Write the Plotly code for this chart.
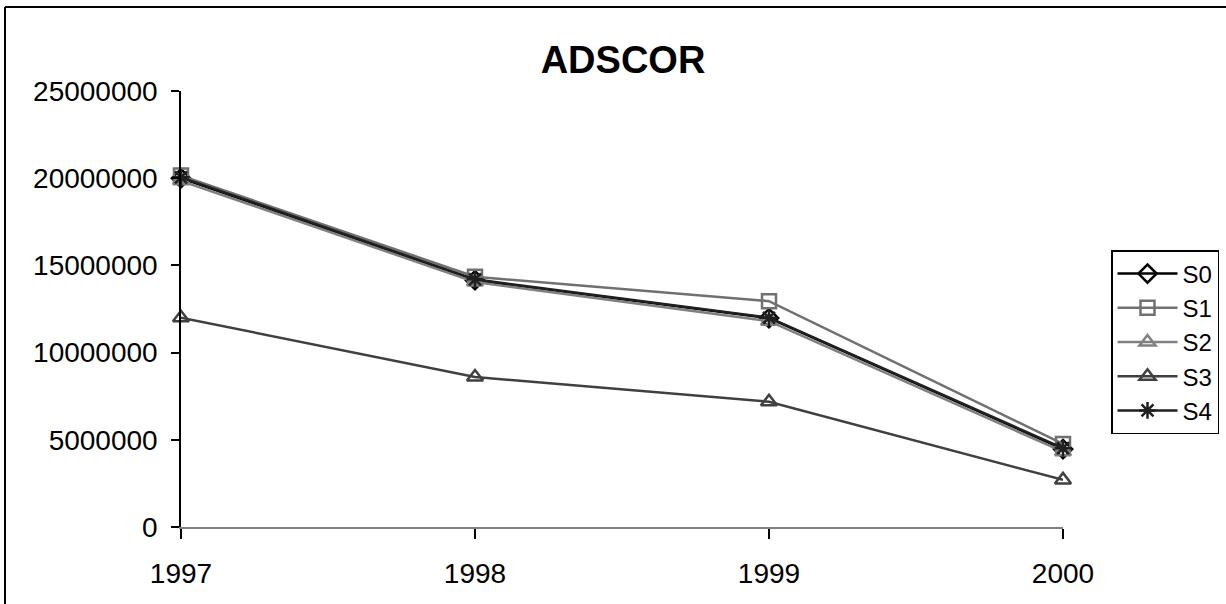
import plotly.graph_objects as go

years = [1997, 1998, 1999, 2000]
s0 = [20000000, 14150000, 11980000, 4470000]
s1 = [20150000, 14350000, 12950000, 4760000]
s2 = [19850000, 14050000, 11800000, 4320000]
s3 = [12000000, 8600000, 7180000, 2700000]
s4 = [20050000, 14200000, 12000000, 4520000]

names = ["S0", "S1", "S2", "S3", "S4"]
series = [s0, s1, s2, s3, s4]
colors = ["#000000", "#707070", "#808080", "#404040", "#202020"]
symbols = ["diamond-open", "square-open", "triangle-up-open", "triangle-up-open", "asterisk-open"]

fig = go.Figure()
for n, v, c, sym in zip(names, series, colors, symbols):
    fig.add_trace(go.Scatter(
        x=years, y=v, name=n, mode="lines+markers",
        line=dict(color=c, width=2.5),
        marker=dict(symbol=sym, size=14, color=c, line=dict(color=c, width=2.5)),
        cliponaxis=False,
    ))

font = "Liberation Sans, Arial, sans-serif"
fig.update_layout(
    width=1226, height=604,
    margin=dict(l=181, r=163, t=91, b=77, autoexpand=False),
    paper_bgcolor="white", plot_bgcolor="white",
    font=dict(family=font, size=28, color="black"),
    title=dict(text="<b>ADSCOR</b>", x=623 / 1226, xanchor="center",
               y=1 - 60 / 604, yanchor="middle", font=dict(size=38)),
    showlegend=True,
    legend=dict(xref="container", yref="container",
                x=1111 / 1226, xanchor="left", y=1 - 342 / 604, yanchor="middle",
                bordercolor="black", borderwidth=1.5, bgcolor="white",
                font=dict(size=24), tracegroupgap=0, itemwidth=60),
    xaxis=dict(range=[1997, 2000], tickvals=years, ticktext=[str(y) for y in years],
               showgrid=False, zeroline=False, showline=True, linecolor="#808080",
               linewidth=2, ticks="outside", ticklen=10, tickcolor="black", tickwidth=1.5,
               ticklabelstandoff=10),
    yaxis=dict(range=[0, 25000000], dtick=5000000, tickformat="d",
               showgrid=False, zeroline=False, showline=True, linecolor="black",
               linewidth=1.5, ticks="outside", ticklen=8, tickcolor="black", tickwidth=1.5,
               ticklabelstandoff=8),
    shapes=[
        dict(type="line", xref="paper", yref="paper",
             x0=(5 - 181) / 882, x1=(1300 - 181) / 882,
             y0=(527 - 7) / 436, y1=(527 - 7) / 436,
             line=dict(color="black", width=2)),
        dict(type="line", xref="paper", yref="paper",
             x0=(5 - 181) / 882, x1=(5 - 181) / 882,
             y0=(527 - 7) / 436, y1=(527 - 700) / 436,
             line=dict(color="black", width=2)),
    ],
)

fig.write_html("out.html", config={"displayModeBar": False},
               post_script="document.body.style.margin='0';document.body.style.overflow='hidden';")
